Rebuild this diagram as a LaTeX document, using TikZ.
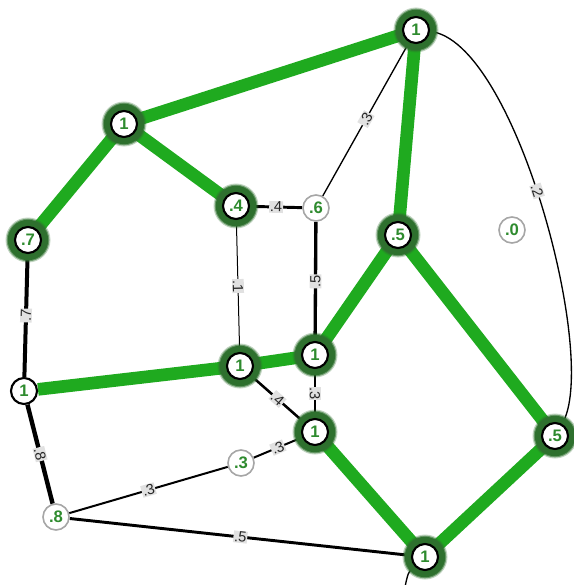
\documentclass[tikz,border=0pt]{standalone}
\usepackage{fontspec}
\setmainfont{Liberation Sans}
\begin{document}
\pgfdeclarelayer{edges}
\pgfdeclarelayer{halo}
\pgfsetlayers{edges,halo,main}
\definecolor{gedge}{RGB}{31,170,31}
\definecolor{ghalo}{RGB}{46,112,46}
\definecolor{gtext}{RGB}{46,139,46}
\definecolor{labbg}{RGB}{225,225,225}
\begin{tikzpicture}[x=0.75pt,y=-0.75pt,
  nd/.style={circle,draw=black,line width=1.6pt,fill=white,minimum size=19.5pt,inner sep=0pt,
    text=gtext,font=\fontsize{12.5}{12.5}\selectfont\bfseries},
  gnd/.style={nd,draw=gray!70,line width=1.2pt},
  gline/.style={draw=gedge,line width=9.5pt},
  bline/.style={draw=black},
  elab/.style={sloped,allow upside down,fill=labbg,inner sep=0.6pt,text=black!85,
    font=\fontsize{11}{11}\selectfont}]
\useasboundingbox (0,0) rectangle (574,585);
% nodes
\node[nd]  (A) at (416,30)  {1};
\node[nd]  (B) at (124,124) {1};
\node[nd]  (C) at (28,240)  {.7};
\node[nd]  (D) at (236,206) {.4};
\node[gnd] (E) at (316,208) {.6};
\node[nd]  (F) at (398,235) {.5};
\node[gnd] (G) at (512,230) {.0};
\node[nd]  (H) at (24,391)  {1};
\node[nd]  (I) at (240,366) {1};
\node[nd]  (J) at (315,355) {1};
\node[nd]  (K) at (315,432) {1};
\node[gnd] (L) at (241,463) {.3};
\node[nd]  (M) at (555,436) {.5};
\node[gnd] (N) at (56,517)  {.8};
\node[nd]  (O) at (425,557) {1};
\coordinate (Oout) at (404,592);
% halos
\begin{pgfonlayer}{halo}
\foreach \n in {A,B,C,D,F,I,J,K,M,O}{
  \fill[ghalo,opacity=0.3] (\n.center) circle (22.5);
  \fill[ghalo,opacity=0.6] (\n.center) circle (21.3);
  \fill[ghalo] (\n.center) circle (20.2);
}
\end{pgfonlayer}
% edges
\begin{pgfonlayer}{edges}
\draw[gline] (A) -- (B);
\draw[gline] (B) -- (C);
\draw[gline] (B) -- (D);
\draw[gline] (A) -- (F);
\draw[gline] (F) -- (J);
\draw[gline] (F) -- (M);
\draw[gline] (H) -- (I);
\draw[gline] (I) -- (J);
\draw[gline] (K) -- (O);
\draw[gline] (M) -- (O);
\draw[bline,line width=3pt] (H) -- node[elab]{.7} (C);
\draw[bline,line width=3.3pt] (H) -- node[elab]{.8} (N);
\draw[bline,line width=1.5pt] (N) -- node[elab]{.3} (L);
\draw[bline,line width=1.5pt] (L) -- node[elab]{.3} (K);
\draw[bline,line width=2.2pt] (N) -- node[elab]{.5} (O);
\draw[bline,line width=1.9pt] (I) -- node[elab]{.4} (K);
\draw[bline,line width=1.1pt] (J) -- node[elab]{.3} (K);
\draw[bline,line width=2.2pt] (D) -- node[elab]{.4} (E);
\draw[bline,line width=2.5pt] (J) -- node[elab]{.5} (E);
\draw[bline,line width=0.75pt] (D) -- node[elab]{.1} (I);
\draw[bline,line width=1pt] (E) -- node[elab]{.3} (A);
\draw[bline,line width=1pt] (A) .. controls (515,40) and (600,360) .. node[elab,pos=0.47]{.2} (M);
\draw[bline,line width=1pt] (O) .. controls (408,572) .. (Oout);
\end{pgfonlayer}
\end{tikzpicture}
\end{document}
